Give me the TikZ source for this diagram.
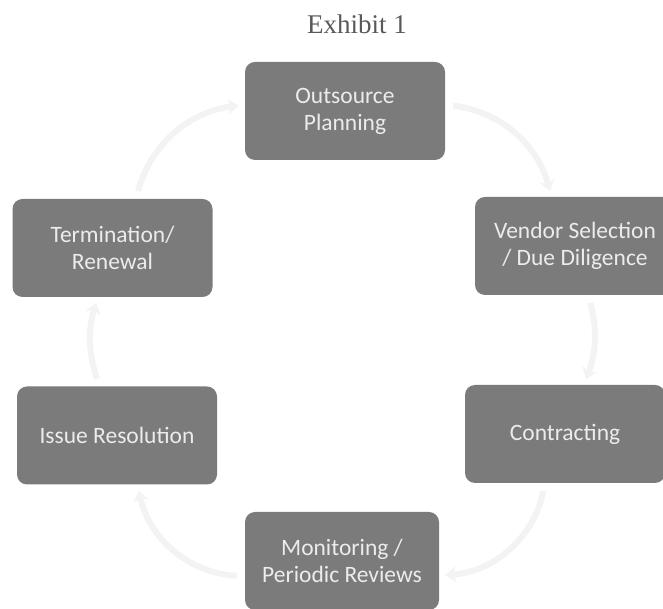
\documentclass[tikz,border=0pt]{standalone}
\usepackage{fontspec}
\setmainfont{Carlito}
\newfontfamily\titlefont{Liberation Serif}
\usetikzlibrary{arrows.meta,positioning}
\definecolor{boxgray}{HTML}{7B7B7B}
\definecolor{boxtext}{HTML}{ECECEC}
\definecolor{ringgray}{HTML}{F3F3F3}
\tikzset{
        stage/.style = {rectangle, rounded corners=10pt, fill=boxgray,
            text=boxtext, align=center, inner sep=0pt,
            minimum height=98pt, minimum width=200pt,
            font=\fontsize{23.5}{27}\selectfont},
        ring/.style = {draw=ringgray, line width=6pt, -{Stealth[length=11pt,width=16pt]},
            shorten <=8pt, shorten >=6pt},
    }

\begin{document}
\begin{tikzpicture}[x=1pt,y=1pt]
    \useasboundingbox (0,0) rectangle (663,609);

    \node[text=black!65, font=\titlefont\fontsize{27}{30}\selectfont] (title) at (357,585) {Exhibit 1};

    \node[stage] (plan) at (345,498) {Outsource\\Planning};
    \node[stage] (vendor) at (575,363) {Vendor Selection\\/ Due Diligence};
    \node[stage] (contract) at (565,175) {Contracting};
    \node[stage, minimum width=194pt] (monitor) at (342,48) {Monitoring /\\Periodic Reviews};
    \node[stage] (issue) at (117,173.5) {Issue Resolution};
    \node[stage] (term) at (112.5,361) {Termination/\\Renewal};

    % faint cycle arrows
    \draw[ring] (plan) to[bend left=34] (vendor);
    \draw[ring] (vendor) to[bend left=18] (contract);
    \draw[ring] (contract) to[bend left=38] (monitor);
    \draw[ring] (monitor) to[bend left=38] (issue);
    \draw[ring] (issue) to[bend left=18] (term);
    \draw[ring] (term) to[bend left=34] (plan);
\end{tikzpicture}
\end{document}
